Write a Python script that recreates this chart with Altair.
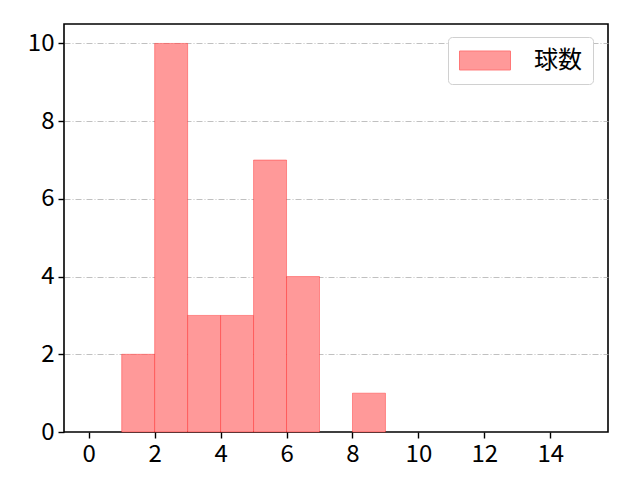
import altair as alt
import pandas as pd

# histogram bins (left edge, right edge) and counts
bin_start = [1, 2, 3, 4, 5, 6, 8]
bin_end = [2, 3, 4, 5, 6, 7, 9]
counts = [2, 10, 3, 3, 7, 4, 1]
series_name = "球数"

x_ticks = [0, 2, 4, 6, 8, 10, 12, 14]
y_ticks = [0, 2, 4, 6, 8, 10]

df = pd.DataFrame({
    "start": bin_start,
    "end": bin_end,
    "count": counts,
    "series": [series_name] * len(counts),
})

FONT = "Noto Sans CJK JP"

bars = (
    alt.Chart(df)
    .mark_rect(stroke="red", strokeOpacity=0.35, strokeWidth=1)
    .encode(
        x=alt.X("start:Q", scale=alt.Scale(domain=[-0.75, 15.75], nice=False, zero=False),
                axis=alt.Axis(values=x_ticks, title=None, grid=False)),
        x2="end:Q",
        y=alt.Y("count:Q", scale=alt.Scale(domain=[0, 10.5], nice=False),
                axis=alt.Axis(values=y_ticks, title=None, grid=True,
                              gridColor="#b0b0b0", gridDash=[6, 2, 1, 2], gridWidth=0.8,
                              # no grid line over the bottom frame
                              gridOpacity={"condition": {"test": "datum.value === 0", "value": 0},
                                           "value": 1})),
        y2=alt.datum(0),
        color=alt.Color(
            "series:N",
            scale=alt.Scale(domain=[series_name], range=["#ff9999"]),
            legend=alt.Legend(
                title=None,
                orient="none",
                legendX=384,
                legendY=13,
                # wide patch drawn to the right of the symbol slot
                symbolType="M-1,-0.79L3.25,-0.79L3.25,0.79L-1,0.79Z",
                symbolSize=576,
                symbolStrokeColor="#ff7777",
                symbolStrokeWidth=1,
                symbolOpacity=1,
                labelFont=FONT,
                labelFontSize=24,
                labelOffset=50,
                strokeColor="#d0d0d0",
                cornerRadius=4,
                padding=11,
                fillColor="white",
            ),
        ),
    )
)

chart = (
    bars.properties(
        width=544,
        height=408,
        padding={"left": 56, "top": 16, "right": 24, "bottom": 40},
        autosize=alt.AutoSizeParams(type="none"),
    )
    .configure_view(stroke="black", strokeWidth=1.6)
    .configure_axis(
        domain=False,
        tickColor="black",
        tickSize=6,
        tickWidth=1.4,
        labelFont=FONT,
        labelFontSize=24,
        labelColor="black",
        labelPadding=4,
    )
)

chart.save("out.html", embed_options={"renderer": "svg", "actions": False})
